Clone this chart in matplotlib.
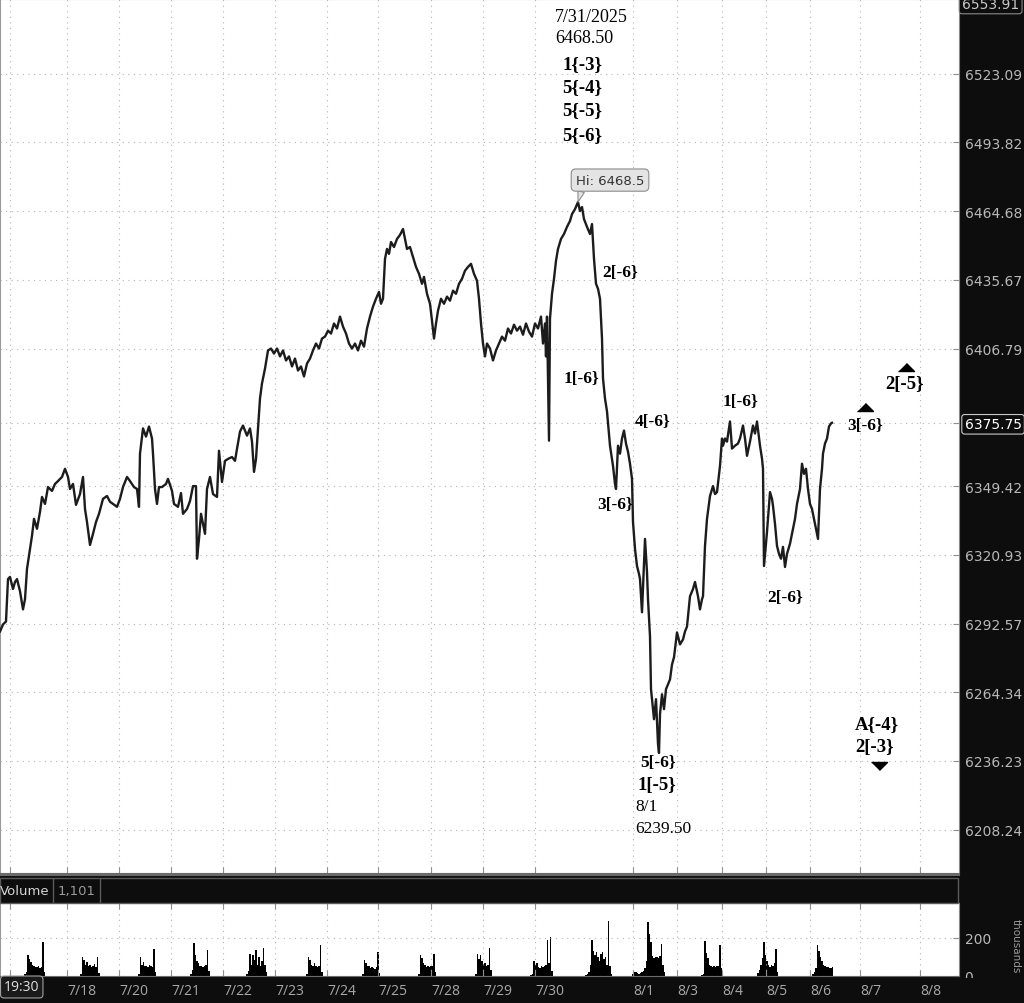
import matplotlib
matplotlib.use('Agg')
import matplotlib.pyplot as plt
from matplotlib.patches import Rectangle
from matplotlib.lines import Line2D
from matplotlib.ticker import NullLocator, NullFormatter

DARK = '#0d0d0d'
GRID = '#b4b4b4'
AXTXT = '#b8b8b8'
SERIF = 'Liberation Serif'

# chart bar position (time axis) and last price
bars = [0, 3, 6, 8, 10, 13, 15, 17, 20, 23, 25, 27, 30, 32, 34, 37, 40, 42, 45, 48,
        52, 55, 58, 62, 65, 68, 70, 73, 76, 80, 83, 85, 87, 90, 93, 96, 99, 103, 107, 110,
        113, 117, 120, 123, 127, 130, 134, 137, 139, 140, 143, 146, 149, 152, 153, 155, 157, 159, 162, 166,
        168, 172, 174, 178, 181, 183, 187, 190, 193, 196, 197, 199, 201, 203, 205, 207, 210, 213, 217, 219,
        222, 225, 228, 232, 235, 237, 240, 243, 247, 250, 252, 254, 256, 258, 260,
        262, 265, 268, 271, 274, 277, 280, 283, 286, 289, 292, 295, 298, 301, 304, 307, 310, 313, 316, 319,
        322, 325, 328, 331, 334, 337, 340, 343, 346, 349, 352, 355, 358, 361, 364, 367, 370, 373, 376, 379,
        381, 383, 385, 387, 389, 391, 394, 397, 400, 403, 405, 407, 410, 413, 416, 419, 422, 424, 427, 430,
        432, 434, 436, 438, 441, 444, 447, 450, 453, 456, 459, 462, 465, 468, 471, 474, 477, 479, 481, 483,
        485, 487, 490, 493, 496, 499, 502, 505, 508, 511, 514, 517, 520, 523, 526, 529, 532, 535, 538, 541,
        543, 545, 546, 547, 549, 550, 552, 554, 556, 558, 561, 564, 567, 570, 572, 575, 578, 580, 582, 584,
        587, 590, 592, 594, 596, 598, 600, 602, 603,
        605, 607, 609, 610, 612, 613, 615, 616, 618, 620, 622, 624, 626, 628, 630, 632, 633, 635, 637, 639,
        640, 642, 644, 645, 647, 648, 650, 651, 652, 654, 656, 658, 659, 660, 662, 664, 666, 668, 670, 672,
        674, 677, 680, 683, 685, 687, 690, 693, 695, 698, 700, 702, 703, 705, 707, 710, 713, 715, 717, 720,
        722, 723, 725, 727, 730, 732, 735, 738, 740, 743, 745, 747, 750, 753, 755, 757, 760, 762, 763, 764,
        766, 767, 770, 772, 773, 775, 777, 779, 781, 783, 785, 787, 790, 793, 795, 797, 800, 802, 804, 806,
        808, 810, 812, 814, 816, 818, 820, 822, 823, 825, 827, 829, 831, 832]
prices = [6289.3, 6292.2, 6293.4, 6310.9, 6311.8, 6306.8, 6309.7, 6310.9, 6305.9, 6298.4,
          6302.6, 6315.1, 6323.4, 6328.8, 6335.8, 6331.7, 6338.7, 6344.9, 6342.0, 6349.0,
          6347.4, 6350.3, 6351.5, 6353.2, 6356.6, 6353.2, 6348.2, 6350.3, 6341.6, 6346.1,
          6353.2, 6339.9, 6334.5, 6325.0, 6329.6, 6334.5, 6337.9, 6344.1, 6345.3, 6342.9,
          6342.0, 6340.8, 6344.1, 6349.0, 6353.2, 6351.5, 6349.0, 6348.2, 6340.8, 6362.9,
          6373.4, 6370.0, 6374.2, 6369.2, 6362.9, 6348.2, 6342.0, 6349.0, 6349.0, 6350.3,
          6352.4, 6347.4, 6342.0, 6340.8, 6346.5, 6337.9, 6339.9, 6343.2, 6349.4, 6349.4,
          6319.3, 6327.5, 6337.9, 6333.8, 6329.6, 6348.2, 6353.2, 6346.1, 6344.9, 6364.1,
          6351.1, 6359.9, 6360.7, 6361.5, 6359.9, 6364.9, 6372.1, 6374.6, 6370.4, 6373.4,
          6367.9, 6355.3, 6360.7, 6373.4, 6385.9,
          6392.2, 6398.4, 6406.0, 6406.8, 6404.7, 6406.8, 6403.5, 6406.0, 6401.8, 6403.5,
          6399.3, 6402.6, 6397.6, 6399.3, 6395.1, 6400.5, 6402.6, 6406.0, 6408.9, 6406.8,
          6411.0, 6411.8, 6414.3, 6413.1, 6417.3, 6415.2, 6420.2, 6416.0, 6413.1, 6408.9,
          6406.8, 6408.9, 6406.0, 6410.1, 6407.6, 6415.2, 6420.2, 6424.4, 6427.7, 6430.6,
          6425.6, 6427.7, 6444.5, 6448.7, 6446.6, 6451.6, 6449.5, 6452.9, 6454.6, 6457.1,
          6452.9, 6448.7, 6449.5, 6445.3, 6441.1, 6438.2, 6434.0, 6436.9, 6429.8, 6425.6,
          6418.5, 6411.0, 6417.3, 6422.7, 6427.7, 6425.6, 6428.6, 6426.9, 6431.1, 6429.8,
          6434.0, 6436.1, 6439.5, 6441.1, 6442.4, 6438.2, 6435.3, 6427.7, 6417.3, 6408.9,
          6403.5, 6408.9, 6406.8, 6401.8, 6406.0, 6408.9, 6411.8, 6410.1, 6415.2, 6413.1,
          6416.8, 6414.3, 6416.0, 6412.6, 6417.3, 6413.9, 6411.8, 6417.3, 6415.2, 6420.2,
          6408.9, 6417.3, 6403.5, 6420.2, 6368.3, 6419.4, 6429.8, 6436.1, 6443.7, 6448.7,
          6452.9, 6455.0, 6458.0, 6460.5, 6463.4, 6465.5, 6468.5, 6464.7, 6466.4, 6461.3,
          6458.0, 6455.0, 6459.2, 6444.5, 6434.0, 6431.9, 6427.7, 6411.0, 6394.3,
          6385.9, 6380.5, 6371.3, 6366.2, 6360.8, 6357.8, 6350.3, 6348.2, 6366.2, 6362.9,
          6369.2, 6372.5, 6367.1, 6363.7, 6358.7, 6352.4, 6334.5, 6323.4, 6316.3, 6313.0,
          6310.9, 6297.2, 6317.2, 6327.5, 6313.8, 6302.6, 6287.3, 6265.6, 6261.5, 6253.3,
          6261.5, 6243.2, 6239.5, 6255.4, 6263.5, 6257.4, 6265.6, 6267.6, 6269.6, 6275.7,
          6278.7, 6288.9, 6284.0, 6286.0, 6289.3, 6291.3, 6303.8, 6306.8, 6309.7, 6303.8,
          6298.4, 6302.6, 6303.8, 6324.6, 6335.8, 6345.3, 6349.4, 6346.1, 6346.9, 6357.8,
          6369.2, 6366.2, 6369.2, 6367.9, 6376.3, 6365.0, 6366.2, 6367.1, 6369.2, 6374.6,
          6369.2, 6362.0, 6367.9, 6374.6, 6371.3, 6376.3, 6366.2, 6360.8, 6356.6, 6316.3,
          6325.5, 6330.4, 6346.9, 6344.1, 6341.2, 6333.7, 6324.6, 6321.3, 6319.3, 6324.2,
          6315.9, 6321.3, 6325.5, 6331.7, 6335.8, 6342.0, 6348.2, 6358.7, 6354.5, 6356.6,
          6348.2, 6342.0, 6339.9, 6335.8, 6331.7, 6327.5, 6348.2, 6356.6, 6362.9, 6367.1,
          6369.2, 6374.2, 6375.5, 6375.75]

price_ticks = [6523.09, 6493.82, 6464.68, 6435.67, 6406.79, 6375.75,
               6349.42, 6320.93, 6292.57, 6264.34, 6236.23, 6208.24]

date_pos = [10, 67, 119, 171, 223, 275, 327, 378, 431, 483, 535, 633, 677, 722, 766, 810, 860, 920]
date_labels = ['', '7/18', '7/20', '7/21', '7/22', '7/23', '7/24', '7/25', '7/28', '7/29',
               '7/30', '8/1', '8/3', '8/4', '8/5', '8/6', '8/7', '8/8']

# volume (thousands) per session, one bar per step
vol_start = [24, 80, 138, 190, 246, 306, 362, 418, 475, 530, 585, 632, 701, 757, 812]
vol_profiles = [
    [8, 20, 110, 90, 75, 60, 52, 48, 45, 50, 42, 45, 177, 20],
    [10, 100, 85, 60, 75, 55, 60, 45, 50, 65, 45, 100, 15],
    [10, 100, 60, 75, 50, 55, 45, 60, 50, 45, 140, 20],
    [8, 30, 175, 110, 80, 70, 50, 55, 45, 50, 60, 135, 25],
    [10, 25, 115, 60, 110, 85, 135, 60, 100, 55, 80, 145, 60, 20],
    [10, 100, 85, 60, 55, 70, 50, 45, 55, 165, 20],
    [10, 85, 70, 55, 50, 40, 45, 40, 38, 45, 125, 15],
    [10, 110, 95, 70, 60, 45, 50, 45, 55, 50, 115, 20],
    [10, 115, 90, 110, 80, 65, 70, 55, 60, 145, 30],
    [5, 10, 80, 60, 70, 45, 40, 50, 45, 50, 60, 190, 70, 205, 25],
    [5, 10, 20, 60, 190, 130, 110, 125, 100, 80, 115, 125, 90, 100, 60, 290, 50, 10],
    [10, 20, 20, 15, 10, 15, 20, 25, 40, 80, 285, 220, 180, 105, 95, 100, 100, 95, 105, 170, 60, 20],
    [5, 10, 185, 120, 95, 60, 50, 45, 50, 45, 50, 55, 165, 40],
    [15, 30, 60, 95, 180, 110, 80, 60, 45, 60, 55, 70, 140, 20],
    [10, 20, 40, 165, 130, 100, 80, 60, 50, 45, 45, 40, 40, 45],
]

# wave count labels: bar, price, text, size
wave_labels = [
    (582, 6527.5, '1{-3}', 13.5), (582, 6517.7, '5{-4}', 13.5),
    (582, 6507.6, '5{-5}', 13.5), (582, 6497.2, '5{-6}', 13.5),
    (620, 6439.0, '2[-6}', 12.5), (581, 6394.3, '1[-6}', 12.5),
    (653, 6376.3, '4[-6}', 12.5), (615, 6342.0, '3[-6}', 12.5),
    (740, 6384.7, '1[-6}', 12.5), (785, 6303.4, '2[-6}', 12.5),
    (658, 6235.8, '5[-6}', 12.5), (657, 6226.8, '1[-5}', 13.5),
    (865, 6375.0, '3[-6}', 12.5), (905, 6392.2, '2[-5}', 13.5),
    (877, 6251.7, 'A{-4}', 13.5), (875, 6242.3, '2[-3}', 13.5),
]
up_marks = [(865, 6380.5), (905.5, 6397.6)]
down_marks = [(879, 6235.8)]


def fx(px):
    return px / 1024


def fy(py):
    return 1 - py / 1004


fig = plt.figure(figsize=(10.24, 10.04), dpi=100, facecolor=DARK)

# price panel
ax = fig.add_axes([0, fy(874), fx(959), 874 / 1004])
ax.set_facecolor('white')
ax.plot(bars, prices, color='#1c1c1c', lw=1.7, zorder=3)
ax.set_yscale('log')
ax.set_xlim(0, 959)
ax.set_ylim(6190.7, 6555.0)
ax.yaxis.tick_right()
ax.set_yticks(price_ticks, labels=[f'{v:.2f}' for v in price_ticks])
ax.yaxis.set_minor_locator(NullLocator())
ax.yaxis.set_minor_formatter(NullFormatter())
ax.set_xticks(date_pos)
ax.tick_params(axis='y', direction='in', length=4, color='#909090', labelcolor=AXTXT,
               labelsize=10, pad=4)
ax.tick_params(axis='x', direction='in', length=4, color='#909090', labelbottom=False)
ax.grid(True, color=GRID, ls=(0, (1, 4)), lw=0.8)
for side, c in [('left', '#9a9a9a'), ('top', '#9a9a9a'), ('right', '#8a8a8a'), ('bottom', '#6a6a6a')]:
    ax.spines[side].set_color(c)

cur = ax.get_yticklabels()[5]
cur.set_color('white')
cur.set_bbox(dict(boxstyle='round,pad=0.2', fc=DARK, ec='#c8c8c8', lw=0.8))

# annotations
ax.text(555, 6547.6, '7/31/2025', ha='left', va='center', fontsize=13, family=SERIF)
ax.text(555, 6538.4, '6468.50', ha='left', va='center', fontsize=13, family=SERIF)
ax.text(635, 6217.7, '8/1', ha='left', va='center', fontsize=12.5, family=SERIF)
ax.text(635, 6209.1, '6239.50', ha='left', va='center', fontsize=12.5, family=SERIF)
for x, p, s, size in wave_labels:
    ax.text(x, p, s, ha='center', va='center', fontsize=size, fontweight='bold',
            family=SERIF, color='black', zorder=4)
for x, p in up_marks:
    ax.plot(x, p, marker=[(-1, 0), (1, 0), (0, 1)], ms=11.5, color='black', zorder=4)
for x, p in down_marks:
    ax.plot(x, p, marker=[(-1, 0), (1, 0), (0, -1)], ms=11.5, color='black', zorder=4)

ax.annotate('Hi: 6468.5', xy=(578, 6468.5), xytext=(610, 6477.8), ha='center', va='center',
            fontsize=9.5, color='#333333', zorder=5,
            bbox=dict(boxstyle='round,pad=0.35', fc='#e4e4e4', ec='#8c8c8c', lw=0.8),
            arrowprops=dict(arrowstyle='wedge,tail_width=0.5', fc='#e4e4e4', ec='#8c8c8c',
                            lw=0.8, relpos=(0.1, 0.0), shrinkA=0, shrinkB=0))

# volume panel
axv = fig.add_axes([0, fy(977), fx(959), 73 / 1004])
axv.set_facecolor('white')
for start, prof in zip(vol_start, vol_profiles):
    xs = [start + 1.5 * i for i in range(len(prof))]
    axv.bar(xs, prof, width=1.5, color='black', align='edge', lw=0)
axv.set_xlim(0, 959)
axv.set_ylim(0, 384)
axv.yaxis.tick_right()
axv.set_yticks([0, 200], labels=['0', '200'])
axv.set_xticks(date_pos, labels=date_labels)
for lab in axv.get_xticklabels():
    lab.set_ha('left')
    lab.set_family('Open Sans')
axv.tick_params(axis='y', direction='in', length=4, color='#909090', labelcolor=AXTXT,
                labelsize=10, pad=4)
axv.tick_params(axis='x', direction='in', length=4, color='#909090', labelcolor='#a8a8a8',
                labelsize=10, pad=5, top=True)
axv.grid(True, color=GRID, ls=(0, (1, 4)), lw=0.8)
axv.spines['top'].set_visible(False)
axv.spines['left'].set_color('#9a9a9a')
axv.spines['right'].set_color('#8a8a8a')
axv.spines['bottom'].set_color('#6a6a6a')

# volume header bar
fig.add_artist(Line2D([0, fx(959)], [fy(876), fy(876)], color='#6a6a6a', lw=1.5))
fig.add_artist(Rectangle((0, fy(904)), fx(958), 25 / 1004, transform=fig.transFigure,
                         fc=DARK, ec='#5a5a5a', lw=1))
for sx in (53, 100):
    fig.add_artist(Line2D([fx(sx), fx(sx)], [fy(903), fy(880)], color='#5a5a5a', lw=1))
fig.text(fx(0), fy(891.5), 'Volume', color='#d4d4d4', fontsize=9.5, va='center')
fig.text(fx(58), fy(891.5), '1,101', color='#9a9a9a', fontsize=9.5, va='center')

# right side boxes and labels
fig.text(fx(962), fy(5), '6553.91', ha='left', va='center', color='#c8c8c8', fontsize=10,
         bbox=dict(boxstyle='round,pad=0.2', fc=DARK, ec='#8a8a8a', lw=0.8))
fig.add_artist(Rectangle((fx(960), 0), fx(64), 25 / 1004, transform=fig.transFigure,
                         fc=DARK, ec='none', zorder=5))
fig.text(fx(1016), fy(946), 'thousands', rotation=270, ha='center', va='center',
         color='#9a9a9a', fontsize=7.5)
fig.text(fx(4), fy(988), '19:30', ha='left', va='center', fontsize=10, color='#e0e0e0',
         family='Open Sans',
         bbox=dict(boxstyle='round,pad=0.25', fc='#1a1a1a', ec='#a0a0a0', lw=0.8))

fig.savefig('out.png', dpi=100, facecolor=DARK)
